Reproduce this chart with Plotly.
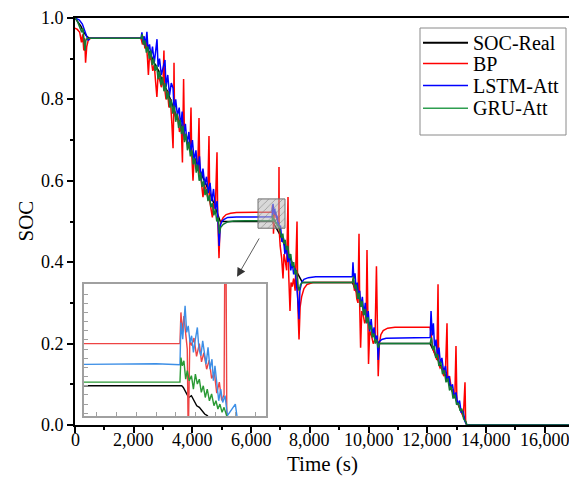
import plotly.graph_objects as go

# ---------------- data ----------------
real_t = [0, 100, 200, 300, 400, 500, 2250, 2400, 2550, 2700, 2850, 3000, 3150, 3300, 3450, 3600,
          3750, 3900, 4050, 4200, 4350, 4500, 4650, 4800, 4950, 6729, 6737, 6751, 6764, 6778, 6791,
          6805, 6818, 6831, 6845, 6858, 7000, 7150, 7300, 7450, 7600, 7750, 9450, 9600, 9750, 9900,
          10050, 10200, 10350, 12100, 12300, 12500, 12700, 12900, 13100, 13250, 13350, 16830]
real_soc = [1.0, 0.99, 0.98, 0.965, 0.955, 0.95, 0.95, 0.93, 0.915, 0.89, 0.87, 0.84, 0.82, 0.79, 0.76, 0.74,
            0.71, 0.685, 0.66, 0.635, 0.61, 0.585, 0.56, 0.53, 0.50, 0.50, 0.4991, 0.4964, 0.4936, 0.4946, 0.4918,
            0.4891, 0.4882, 0.4864, 0.4846, 0.4837, 0.465, 0.44, 0.415, 0.39, 0.37, 0.35, 0.35, 0.325, 0.30, 0.27,
            0.245, 0.22, 0.20, 0.20, 0.17, 0.14, 0.11, 0.075, 0.045, 0.02, 0.0, 0.0]

bp_t = [0, 80, 160, 220, 260, 300, 330, 360, 400, 450, 520, 2250,
        2300, 2340, 2380, 2420, 2470, 2500, 2540, 2600, 2650, 2700, 2750, 2790, 2830, 2880, 2940, 3000,
        3030, 3050, 3100, 3150, 3200, 3250, 3300, 3340, 3360, 3373, 3390, 3450, 3500, 3560, 3620, 3660,
        3700, 3730, 3800, 3860, 3920, 3952, 3975, 4020, 4060, 4120, 4180, 4225, 4250, 4300, 4360, 4400,
        4460, 4520, 4565, 4590, 4640, 4680, 4720, 4780, 4838, 4860, 4906, 4940, 4980, 5050, 5150, 5300,
        5500, 6000, 6720, 6725, 6732, 6740, 6749, 6757, 6762, 6770, 6779, 6791, 6804, 6818, 6829, 6841,
        6855, 6868, 6880, 6894, 6906, 6919, 6931, 6943, 6950, 6957, 6990, 7040, 7087, 7120, 7170, 7210,
        7257, 7280, 7325, 7360, 7400, 7450, 7500, 7564, 7590, 7632, 7670, 7720, 7800, 7900, 8100, 9450,
        9480, 9520, 9560, 9600, 9640, 9676, 9700, 9730, 9770, 9820, 9870, 9920, 9948, 9975, 10000, 10040,
        10100, 10160, 10220, 10270, 10300, 10330, 10370, 10420, 10500, 10650, 10900, 12100,
        12140, 12180, 12230, 12280, 12330, 12368, 12390, 12440, 12500, 12560, 12620, 12674, 12700, 12760,
        12820, 12880, 12940, 12980, 13010, 13060, 13120, 13180, 13230, 13287, 13310, 13350, 16830]
bp_soc = [0.975, 0.972, 0.965, 0.94, 0.96, 0.92, 0.95, 0.89, 0.93, 0.945, 0.95, 0.95,
          0.935, 0.955, 0.925, 0.945, 0.90, 0.86, 0.91, 0.895, 0.87, 0.885, 0.84, 0.806, 0.86, 0.85, 0.83, 0.845,
          0.92, 0.83, 0.80, 0.82, 0.78, 0.80, 0.74, 0.68, 0.76, 0.89, 0.77, 0.75, 0.76, 0.72, 0.735, 0.645,
          0.85, 0.70, 0.71, 0.68, 0.69, 0.78, 0.67, 0.60, 0.655, 0.64, 0.625, 0.754, 0.62, 0.60, 0.56, 0.59,
          0.58, 0.56, 0.71, 0.55, 0.53, 0.51, 0.545, 0.53, 0.67, 0.52, 0.41, 0.49, 0.50, 0.51, 0.517, 0.52,
          0.522, 0.523, 0.523, 0.540, 0.529, 0.538, 0.527, 0.520, 0.47, 0.525, 0.522, 0.526, 0.516, 0.523, 0.513, 0.518,
          0.509, 0.514, 0.504, 0.507, 0.496, 0.502, 0.492, 0.495, 0.634, 0.48, 0.44, 0.41, 0.36, 0.42, 0.40, 0.38,
          0.56, 0.37, 0.28, 0.35, 0.34, 0.36, 0.33, 0.50, 0.30, 0.21, 0.29, 0.315, 0.335, 0.345, 0.35, 0.35,
          0.36, 0.33, 0.34, 0.31, 0.30, 0.47, 0.29, 0.19, 0.28, 0.27, 0.25, 0.26, 0.43, 0.24, 0.15, 0.23,
          0.22, 0.20, 0.21, 0.39, 0.20, 0.12, 0.20, 0.222, 0.232, 0.238, 0.24, 0.24,
          0.22, 0.19, 0.18, 0.17, 0.16, 0.346, 0.15, 0.14, 0.145, 0.12, 0.13, 0.25, 0.11, 0.12,
          0.09, 0.08, 0.07, 0.194, 0.06, 0.05, 0.04, 0.03, 0.02, 0.105, 0.005, 0.0, 0.0]

lstm_t = [0, 150, 250, 330, 400, 450, 500, 2250,
          2280, 2320, 2360, 2400, 2450, 2490, 2540, 2590, 2640, 2700, 2750, 2794, 2830, 2880, 2940, 3000,
          3066, 3100, 3160, 3220, 3280, 3340, 3380, 3430, 3490, 3550, 3600, 3650, 3700, 3760, 3820, 3880,
          3940, 4000, 4060, 4120, 4180, 4240, 4300, 4360, 4420, 4480, 4540, 4600, 4660, 4720, 4780, 4840,
          4880, 4910, 4950, 5000, 5080, 5200, 5500, 6600, 6720, 6725, 6734, 6746, 6754, 6762, 6771, 6779,
          6788, 6798, 6808, 6816, 6826, 6835, 6843, 6852, 6862, 6872, 6882, 6889, 6897, 6906, 6916, 6926,
          6936, 6948, 6960, 7000, 7050, 7100, 7150, 7200, 7250, 7300, 7350, 7400, 7450, 7500, 7560, 7600,
          7632, 7660, 7720, 7800, 7950, 8200, 9450,
          9470, 9500, 9540, 9580, 9620, 9660, 9700, 9740, 9790, 9840, 9890, 9940, 9990, 10040, 10090, 10140,
          10190, 10240, 10290, 10330, 10370, 10450, 10600, 12100,
          12130, 12170, 12210, 12250, 12300, 12350, 12400, 12450, 12500, 12560, 12620, 12680, 12740, 12800,
          12860, 12920, 12980, 13040, 13100, 13160, 13220, 13280, 13350, 16830]
lstm_soc = [1.0, 0.995, 0.985, 0.97, 0.955, 0.945, 0.95, 0.95,
            0.965, 0.94, 0.955, 0.93, 0.966, 0.92, 0.935, 0.905, 0.93, 0.89, 0.92, 0.948, 0.88, 0.90, 0.86, 0.88,
            0.897, 0.83, 0.86, 0.81, 0.84, 0.828, 0.77, 0.80, 0.76, 0.78, 0.73, 0.77, 0.71, 0.74, 0.69, 0.72,
            0.67, 0.70, 0.65, 0.675, 0.625, 0.66, 0.60, 0.63, 0.59, 0.61, 0.57, 0.595, 0.55, 0.58, 0.53, 0.55,
            0.50, 0.44, 0.49, 0.50, 0.505, 0.51, 0.511, 0.512, 0.5115, 0.5345, 0.5254, 0.5436, 0.5291, 0.5327, 0.5236, 0.5273,
            0.5182, 0.5254, 0.5318, 0.5200, 0.5164, 0.5245, 0.5182, 0.5118, 0.5209, 0.5091, 0.5145, 0.5027, 0.5109, 0.5000, 0.4918, 0.4982,
            0.4909, 0.4946, 0.4837, 0.49, 0.45, 0.46, 0.42, 0.44, 0.40, 0.42, 0.38, 0.40, 0.37, 0.385, 0.34, 0.30,
            0.26, 0.33, 0.35, 0.358, 0.362, 0.364, 0.365,
            0.40, 0.36, 0.373, 0.33, 0.35, 0.31, 0.33, 0.29, 0.315, 0.27, 0.30, 0.25, 0.28, 0.23, 0.26, 0.22,
            0.24, 0.21, 0.22, 0.16, 0.205, 0.21, 0.213, 0.215,
            0.28, 0.22, 0.25, 0.19, 0.21, 0.17, 0.19, 0.15, 0.165, 0.13, 0.145, 0.11, 0.12, 0.09,
            0.10, 0.07, 0.08, 0.05, 0.06, 0.03, 0.035, 0.01, 0.0, 0.0]

gru_t = [0, 60, 120, 180, 230, 270, 310, 340, 370, 420, 500, 2250,
         2290, 2330, 2380, 2430, 2480, 2530, 2580, 2630, 2680, 2730, 2780, 2830, 2880, 2930, 2980, 3030,
         3080, 3130, 3180, 3230, 3280, 3330, 3380, 3430, 3480, 3530, 3580, 3630, 3680, 3730, 3780, 3830,
         3880, 3930, 3980, 4030, 4080, 4130, 4180, 4230, 4280, 4330, 4380, 4430, 4480, 4530, 4580, 4630,
         4680, 4730, 4780, 4830, 4880, 4920, 4960, 5050, 5200, 5400, 5800, 6720, 6725, 6732, 6740, 6749,
         6757, 6767, 6778, 6788, 6798, 6808, 6818, 6828, 6838, 6848, 6858, 6869, 6880, 6892, 6902, 6912,
         6922, 6933, 6943, 6956, 7000, 7040, 7080, 7120, 7160, 7200, 7250, 7300, 7350, 7400, 7450, 7500,
         7550, 7600, 7640, 7680, 7750, 9450,
         9490, 9530, 9580, 9630, 9680, 9730, 9780, 9830, 9880, 9930, 9980, 10030, 10080, 10130, 10180, 10230,
         10280, 10330, 10380, 12100,
         12140, 12190, 12240, 12290, 12340, 12400, 12460, 12520, 12580, 12640, 12700, 12760, 12820, 12880,
         12940, 13000, 13060, 13120, 13180, 13240, 13300, 13350, 16830]
gru_soc = [1.0, 0.995, 0.985, 0.975, 0.965, 0.975, 0.94, 0.92, 0.945, 0.95, 0.95, 0.95,
           0.96, 0.935, 0.945, 0.915, 0.93, 0.90, 0.92, 0.885, 0.90, 0.87, 0.885, 0.85, 0.87, 0.835, 0.855, 0.82,
           0.84, 0.80, 0.82, 0.78, 0.80, 0.765, 0.785, 0.745, 0.765, 0.73, 0.75, 0.715, 0.735, 0.695, 0.715, 0.675,
           0.695, 0.66, 0.675, 0.64, 0.655, 0.62, 0.64, 0.60, 0.62, 0.585, 0.60, 0.565, 0.58, 0.55, 0.565, 0.535,
           0.545, 0.515, 0.53, 0.50, 0.51, 0.47, 0.485, 0.493, 0.499, 0.501, 0.502, 0.502, 0.5154, 0.5109, 0.5136, 0.5036,
           0.5082, 0.5027, 0.5055, 0.4982, 0.5064, 0.5009, 0.5036, 0.4964, 0.5000, 0.4936, 0.4982, 0.4918, 0.4955, 0.4891, 0.4918, 0.4873,
           0.4900, 0.4855, 0.4882, 0.4837, 0.475, 0.46, 0.47, 0.445, 0.455, 0.43, 0.44, 0.41, 0.42, 0.39, 0.40, 0.37,
           0.38, 0.34, 0.33, 0.345, 0.35, 0.35,
           0.365, 0.335, 0.345, 0.31, 0.325, 0.29, 0.305, 0.27, 0.285, 0.25, 0.265, 0.235, 0.245, 0.215, 0.225, 0.20,
           0.21, 0.19, 0.20, 0.20,
           0.215, 0.185, 0.195, 0.165, 0.175, 0.145, 0.155, 0.125, 0.135, 0.105, 0.115, 0.085, 0.095, 0.065,
           0.075, 0.05, 0.055, 0.035, 0.04, 0.015, 0.01, 0.0, 0.0]

series_names = ["SOC-Real", "BP", "LSTM-Att", "GRU-Att"]
x_ticks = [0, 2000, 4000, 6000, 8000, 10000, 12000, 14000, 16000]
y_ticks = [0.0, 0.2, 0.4, 0.6, 0.8, 1.0]
x_title = "Time (s)"
y_title = "SOC"

# zoomed window shown in the inset
inset_t = [6235, 7155]
inset_soc = [0.4835, 0.5555]
arrow_from = [6303, 0.462]
arrow_to = [5519, 0.364]

# ---------------- figure ----------------
W, H = 569, 492
ML, MR, MT, MB = 75, 0, 18, 67
FONT = "Times New Roman"

main_colors = ["#000000", "#ff0000", "#0000ff", "#137a34"]
legend_colors = ["#000000", "#ff0000", "#0000ff", "#2e9e50"]
inset_colors = ["#000000", "#ee4444", "#3d8fe6", "#2a9a35"]
data = [(real_t, real_soc), (bp_t, bp_soc), (lstm_t, lstm_soc), (gru_t, gru_soc)]

fig = go.Figure()
for (tt, ss), name, col in zip(data, series_names, main_colors):
    fig.add_trace(go.Scatter(x=tt, y=ss, mode="lines", name=name, showlegend=False,
                             line=dict(color=col, width=1.5), xaxis="x", yaxis="y"))

# shaded zoom box on the main chart
bx = [inset_t[0], inset_t[1], inset_t[1], inset_t[0], inset_t[0]]
by = [inset_soc[0], inset_soc[0], inset_soc[1], inset_soc[1], inset_soc[0]]
fig.add_trace(go.Scatter(x=bx, y=by, mode="lines", fill="toself", showlegend=False, hoverinfo="skip",
                         line=dict(color="#707070", width=1),
                         fillcolor="rgba(170,170,170,0.55)",
                         fillpattern=dict(shape="/", fgcolor="rgba(120,120,120,0.7)",
                                          bgcolor="rgba(185,185,185,0.55)", size=5, solidity=0.15),
                         xaxis="x", yaxis="y"))

# inset traces (same data, zoomed axes)
for (tt, ss), name, col in zip(data, series_names, inset_colors):
    fig.add_trace(go.Scatter(x=tt, y=ss, mode="lines", name=name, showlegend=False,
                             line=dict(color=col, width=1.4), xaxis="x2", yaxis="y2"))

pw = W - ML - MR
ph = H - MT - MB
def px_x(p):
    return (p - ML) / pw
def px_y(p):
    return (H - MB - p) / ph

fig.update_layout(
    template="none",
    width=W, height=H,
    margin=dict(l=ML, r=MR, t=MT, b=MB, pad=0),
    paper_bgcolor="white", plot_bgcolor="white",
    font=dict(family=FONT, size=18, color="black"),
    xaxis=dict(range=[0, 16830], tickvals=x_ticks, showticklabels=False,
               showline=True, linecolor="black", linewidth=2, mirror=True,
               ticks="outside", ticklen=6, tickwidth=1.5, tickcolor="black",
               minor=dict(dtick=1000, tick0=0, ticks="outside", ticklen=3, tickwidth=1.5, tickcolor="black",
                          showgrid=False),
               showgrid=False, zeroline=False, layer="below traces"),
    yaxis=dict(range=[0, 1.0], tickvals=y_ticks, showticklabels=False,
               showline=True, linecolor="black", linewidth=2,
               ticks="outside", ticklen=6, tickwidth=1.5, tickcolor="black",
               minor=dict(dtick=0.1, tick0=0, ticks="outside", ticklen=3, tickwidth=1.5, tickcolor="black",
                          showgrid=False),
               showgrid=False, zeroline=False, layer="below traces"),
    xaxis2=dict(domain=[px_x(84), px_x(266)], anchor="y2", range=inset_t,
                showline=True, mirror=True, linecolor="#a0a0a0", linewidth=1.5,
                ticks="inside", ticklen=4, tickcolor="#a0a0a0", dtick=100, tick0=0,
                showticklabels=False, showgrid=False, zeroline=False),
    yaxis2=dict(domain=[px_y(416), px_y(284)], anchor="x2", range=inset_soc,
                showline=True, mirror=True, linecolor="#a0a0a0", linewidth=1.5,
                ticks="inside", ticklen=4, tickcolor="#a0a0a0", dtick=0.005, tick0=0,
                showticklabels=False, showgrid=False, zeroline=False),
    showlegend=False,
)

# tick labels and axis titles as text placed on the axes' own scales
for v in x_ticks:
    fig.add_annotation(x=v, y=px_y(440), xref="x", yref="paper", text=f"{v:,}",
                       showarrow=False, xanchor="center", yanchor="middle",
                       font=dict(family=FONT, size=18, color="black"))
for v in y_ticks:
    fig.add_annotation(x=px_x(66), y=v, xref="paper", yref="y", text=f"{v:.1f}",
                       showarrow=False, xanchor="right", yanchor="middle",
                       font=dict(family=FONT, size=18, color="black"))
fig.add_annotation(x=0.5, y=px_y(464), xref="paper", yref="paper", text=x_title,
                   showarrow=False, xanchor="center", yanchor="middle",
                   font=dict(family=FONT, size=21, color="black"))
fig.add_annotation(x=px_x(25), y=0.5, xref="paper", yref="paper", text=y_title, textangle=-90,
                   showarrow=False, xanchor="center", yanchor="middle",
                   font=dict(family=FONT, size=21, color="black"))

fig.add_annotation(x=arrow_to[0], y=arrow_to[1], ax=arrow_from[0], ay=arrow_from[1],
                   xref="x", yref="y", axref="x", ayref="y", text="", showarrow=True,
                   arrowhead=2, arrowsize=2.2, arrowwidth=0.8, arrowcolor="#333333")

# legend box (drawn as shapes + text so its spacing matches the original)
LEG_L, LEG_R, LEG_T, LEG_B = 420, 566, 28, 135
fig.add_shape(type="rect", xref="paper", yref="paper",
              x0=px_x(LEG_L), x1=px_x(LEG_R), y0=px_y(LEG_B), y1=px_y(LEG_T),
              line=dict(color="#8a8a8a", width=1), fillcolor="white", layer="above")
row_y = [42.7, 63.5, 85.5, 108.3]
for name, col, ry in zip(series_names, legend_colors, row_y):
    fig.add_shape(type="line", xref="paper", yref="paper",
                  x0=px_x(423), x1=px_x(468), y0=px_y(ry), y1=px_y(ry),
                  line=dict(color=col, width=1.6 if col != "#000000" else 2), layer="above")
    fig.add_annotation(x=px_x(471), y=px_y(ry), xref="paper", yref="paper", text=name,
                       showarrow=False, xanchor="left", yanchor="middle",
                       font=dict(family=FONT, size=20, color="black"))

fig.write_html("out.html")
